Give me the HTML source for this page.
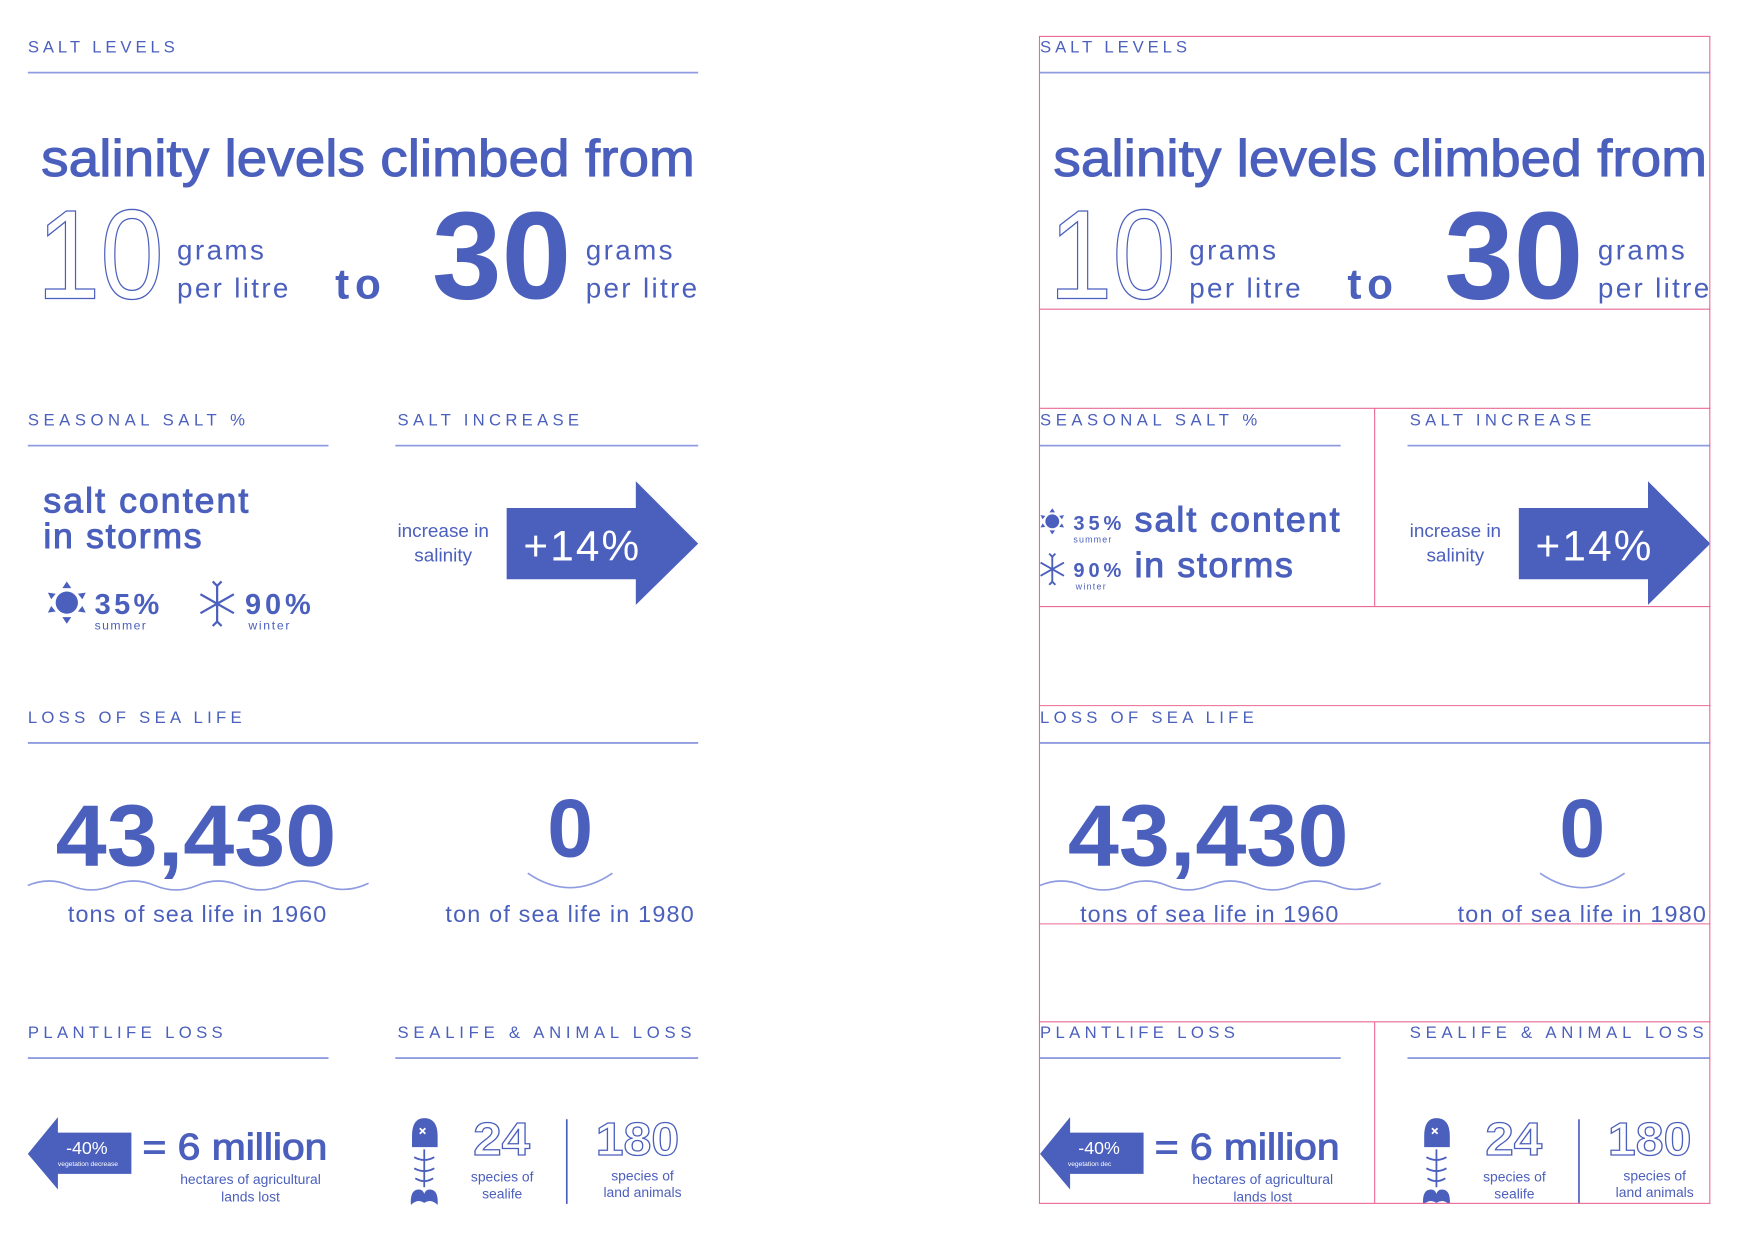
<!DOCTYPE html>
<html><head><meta charset="utf-8"><style>
html,body{margin:0;padding:0;background:#fff;width:1746px;height:1242px;overflow:hidden}
svg{display:block}
text{font-family:"Liberation Sans",sans-serif;fill:#4b5fbd}
.cap{font-size:15px;letter-spacing:3px}
.rule{stroke:#8f9ce0;stroke-width:1.6}
.med{stroke:#4b5fbd;stroke-width:0.9}
.pink{stroke:#ea6a93;stroke-width:1;fill:none}
</style></head><body>
<svg id="root" width="1746" height="1242" viewBox="0 0 1568 1115" xmlns="http://www.w3.org/2000/svg">
<defs>
<clipPath id="clipR"><rect x="24" y="32" width="603" height="1049"/></clipPath>
</defs>
<g id="left">
  <g id="common">
  <text class="cap" x="25" y="47" textLength="135">SALT LEVELS</text>
  <line class="rule" x1="25" y1="65" x2="627" y2="65"/>
  <text class="med" x="37" y="158" font-size="47" textLength="587" lengthAdjust="spacingAndGlyphs">salinity levels climbed from</text>
  <text x="33" y="268" font-size="114" textLength="114" lengthAdjust="spacingAndGlyphs" style="fill:none;stroke:#4b5fbd;stroke-width:1.2">10</text>
  <text x="159" y="233" font-size="25" textLength="78">grams</text>
  <text x="159" y="267" font-size="25" textLength="100">per litre</text>
  <text x="301" y="268" font-size="38" font-weight="bold" textLength="41">to</text>
  <text x="388" y="268" font-size="112" font-weight="bold" textLength="125" lengthAdjust="spacingAndGlyphs">30</text>
  <text x="526" y="233" font-size="25" textLength="78">grams</text>
  <text x="526" y="267" font-size="25" textLength="100">per litre</text>

  <text class="cap" x="25" y="382" textLength="198">SEASONAL SALT %</text>
  <line class="rule" x1="25" y1="400" x2="295" y2="400"/>
  <text class="cap" x="357" y="382" textLength="166">SALT INCREASE</text>
  <line class="rule" x1="355" y1="400" x2="627" y2="400"/>

  <text x="398" y="482" font-size="17" text-anchor="middle">increase in</text>
  <text x="398" y="504" font-size="17" text-anchor="middle">salinity</text>
  <path d="M455 456 H571 V432 L627 488 L571 543 V520 H455 Z" fill="#4b5fbd"/>
  <text x="470" y="503" font-size="38" textLength="104" style="fill:#fff">+14%</text>

  <text class="cap" x="25" y="649" textLength="195">LOSS OF SEA LIFE</text>
  <line class="rule" x1="25" y1="667" x2="627" y2="667"/>
  <text x="50" y="777" font-size="78" font-weight="bold" textLength="252" lengthAdjust="spacingAndGlyphs">43,430</text>
  <path d="M25 795 Q44 787 63 795 T101 795 T139 795 T177 795 T215 795 T253 795 T291 795 T331 793" fill="none" stroke="#8f9ce0" stroke-width="1.5"/>
  <text x="61" y="828" font-size="21" textLength="232">tons of sea life in 1960</text>
  <text x="512" y="769" font-size="74" font-weight="bold" text-anchor="middle">0</text>
  <path d="M474 784 Q493 797 512 797 Q531 797 550 784" fill="none" stroke="#8f9ce0" stroke-width="1.5"/>
  <text x="400" y="828" font-size="21" textLength="223">ton of sea life in 1980</text>

  <text class="cap" x="25" y="932" textLength="178">PLANTLIFE LOSS</text>
  <line class="rule" x1="25" y1="950" x2="295" y2="950"/>
  <text class="cap" x="357" y="932" textLength="267">SEALIFE &amp; ANIMAL LOSS</text>
  <line class="rule" x1="355" y1="950" x2="627" y2="950"/>

  <path d="M25 1036 L52 1003 V1017 H118 V1054 H52 V1068 Z" fill="#4b5fbd"/>
  <text x="78" y="1036" font-size="16" text-anchor="middle" style="fill:#fff">-40%</text>
  <text x="128" y="1041" font-size="33" class="med" textLength="166" lengthAdjust="spacingAndGlyphs">= 6 million</text>
  <text x="225" y="1063" font-size="12.5" text-anchor="middle">hectares of agricultural</text>
  <text x="225" y="1079" font-size="12.5" text-anchor="middle">lands lost</text>

  <g>
    <path d="M370 1030 V1020 Q370 1004 381 1004 Q393 1004 393 1020 V1030 Z" fill="#4b5fbd"/>
    <path d="M377 1013 l5 5 M382 1013 l-5 5" stroke="#fff" stroke-width="1.6"/>
    <line x1="381" y1="1032" x2="381" y2="1066" stroke="#4b5fbd" stroke-width="1.6"/>
    <path d="M372 1039 Q381 1044 390 1039 M372 1049 Q381 1054 390 1049 M373 1058 Q381 1063 389 1058" fill="none" stroke="#4b5fbd" stroke-width="1.6"/>
    <path d="M369 1082 Q368 1068 376 1068 Q380 1068 381 1072 Q382 1068 386 1068 Q394 1068 393 1082 Q387 1076 381 1080 Q375 1076 369 1082 Z" fill="#4b5fbd"/>
  </g>
  <text x="425" y="1037" font-size="42" font-weight="bold" textLength="51" lengthAdjust="spacingAndGlyphs" style="fill:none;stroke:#4b5fbd;stroke-width:1.1">24</text>
  <text x="451" y="1061" font-size="12.5" text-anchor="middle">species of</text>
  <text x="451" y="1076" font-size="12.5" text-anchor="middle">sealife</text>
  <line x1="509" y1="1005" x2="509" y2="1081" stroke="#4b5fbd" stroke-width="1.5"/>
  <text x="535" y="1037" font-size="42" font-weight="bold" textLength="75" lengthAdjust="spacingAndGlyphs" style="fill:none;stroke:#4b5fbd;stroke-width:1.1">180</text>
  <text x="577" y="1060" font-size="12.5" text-anchor="middle">species of</text>
  <text x="577" y="1075" font-size="12.5" text-anchor="middle">land animals</text>
  </g>

  <g>
    <text class="med" x="39" y="460" font-size="32" textLength="184">salt content</text>
    <text class="med" x="39" y="492" font-size="32" textLength="142">in storms</text>
    <g transform="translate(60,541)">
      <circle r="10" fill="#4b5fbd"/>
      <path d="M0-19 l4 6 h-8z M0 19 l4-6 h-8z M-17-9 l7 1 -4 5z M17-9 l-7 1 4 5z M-17 9 l7-1 -4-5z M17 9 l-7-1 4-5z" fill="#4b5fbd"/>
    </g>
    <text x="85" y="551" font-size="26" font-weight="bold" textLength="58">35%</text>
    <text x="85" y="565" font-size="11" textLength="46">summer</text>
    <g transform="translate(195,542)" stroke="#4b5fbd" stroke-width="2" fill="none">
      <path d="M0-17V17 M-15-8.5 15 8.5 M-15 8.5 15-8.5 M-4-20 0-16 4-20 M-4 20 0 16 4 20"/>
    </g>
    <text x="220" y="551" font-size="26" font-weight="bold" textLength="59">90%</text>
    <text x="223" y="565" font-size="11" textLength="37">winter</text>
  </g>
  <text x="79" y="1047" font-size="6" text-anchor="middle" style="fill:#fff">vegetation decrease</text>
</g>

<g transform="translate(909,0)">
  <g clip-path="url(#clipR)" id="rightClip">
    <g>
      <g transform="translate(36,468) scale(0.62)">
        <circle r="10" fill="#4b5fbd"/>
        <path d="M0-19 l4 6 h-8z M0 19 l4-6 h-8z M-17-9 l7 1 -4 5z M17-9 l-7 1 4 5z M-17 9 l7-1 -4-5z M17 9 l-7-1 4-5z" fill="#4b5fbd"/>
      </g>
      <text x="55" y="476" font-size="18" font-weight="bold" textLength="43">35%</text>
      <text x="55" y="487" font-size="8" textLength="34">summer</text>
      <g transform="translate(36,511) scale(0.7)" stroke="#4b5fbd" stroke-width="2.4" fill="none">
        <path d="M0-17V17 M-15-8.5 15 8.5 M-15 8.5 15-8.5 M-4-20 0-16 4-20 M-4 20 0 16 4 20"/>
      </g>
      <text x="55" y="518" font-size="18" font-weight="bold" textLength="43">90%</text>
      <text x="57" y="529" font-size="8" textLength="27">winter</text>
      <text class="med" x="110" y="477" font-size="32" textLength="184">salt content</text>
      <text class="med" x="110" y="518" font-size="32" textLength="142">in storms</text>
    </g>
    <text x="50" y="1047" font-size="6" style="fill:#fff">vegetation dec</text>
  </g>
</g>

<g>
  <rect class="pink" x="933.5" y="32.5" width="602" height="1048"/>
  <path class="pink" d="M933 277.5H1536 M933 366.5H1536 M933 544.5H1536 M933 633.5H1536 M933 829.5H1536 M933 917.5H1536 M1234.5 366V544 M1234.5 917V1081"/>
</g>
</svg>
<script>
var common=document.getElementById('common');
var clone=common.cloneNode(true);
clone.removeAttribute('id');

var rc=document.getElementById('rightClip');
rc.insertBefore(clone, rc.firstChild);
</script>
</body></html>
